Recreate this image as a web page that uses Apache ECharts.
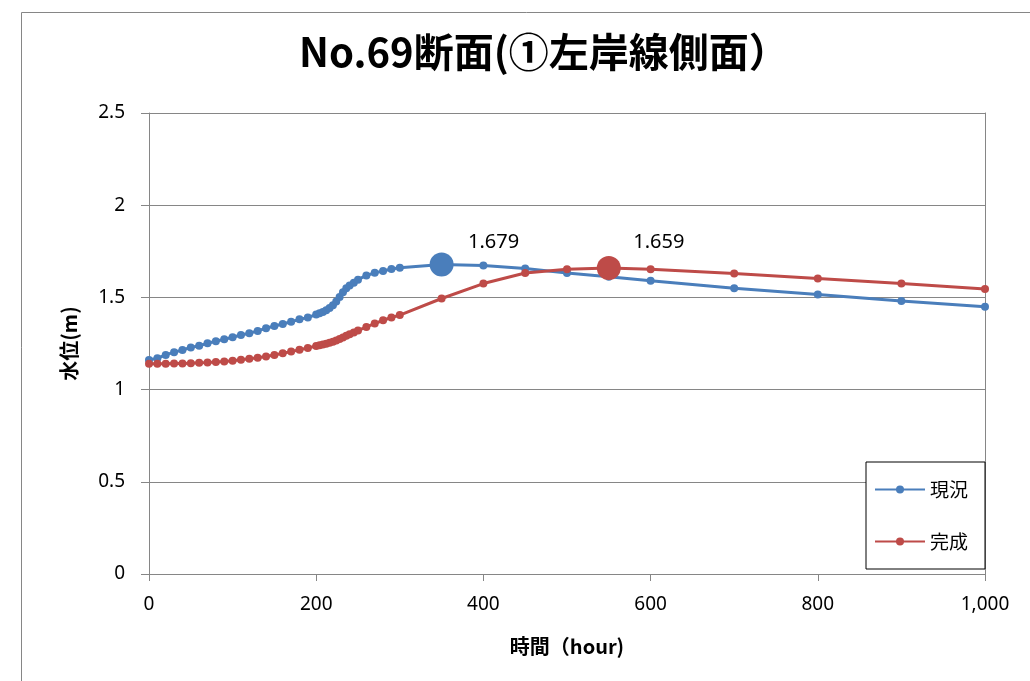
<!DOCTYPE html>
<html>
<head>
<meta charset="utf-8">
<script src="https://cdn.jsdelivr.net/npm/echarts@6/dist/echarts.min.js"></script>
<style>
  html, body { margin: 0; padding: 0; background: #fff; }
  #chart { width: 1030px; height: 681px; }
</style>
</head>
<body>
<div id="chart"></div>
<script>
// 水位の時間変化（現況・完成）
const titleText = 'No.69断面(①左岸線側面）';
const xName = '時間（hour)';
const yName = '水位(m)';
const seriesNames = ['現況', '完成'];

// 現況
const hoursA = [0, 10, 20, 30, 40, 50, 60, 70, 80, 90, 100, 110, 120, 130, 140, 150, 160, 170, 180, 190, 200,
  204, 208, 212, 216, 220, 224, 228, 232, 236, 240, 245, 250, 260, 270, 280, 290, 300,
  350, 400, 450, 500, 550, 600, 700, 800, 900, 1000];
const levelA = [1.161, 1.170, 1.188, 1.203, 1.215, 1.228, 1.238, 1.251, 1.262, 1.273, 1.284, 1.296, 1.306, 1.318, 1.333, 1.345, 1.356, 1.368, 1.381, 1.391, 1.407,
  1.414, 1.421, 1.430, 1.442, 1.458, 1.478, 1.502, 1.528, 1.550, 1.565, 1.580, 1.596, 1.619, 1.633, 1.643, 1.654, 1.661,
  1.679, 1.673, 1.657, 1.632, 1.612, 1.590, 1.549, 1.516, 1.480, 1.449];

// 完成
const hoursB = [0, 10, 20, 30, 40, 50, 60, 70, 80, 90, 100, 110, 120, 130, 140, 150, 160, 170, 180, 190, 200,
  204, 208, 212, 216, 220, 224, 228, 232, 236, 240, 245, 250, 260, 270, 280, 290, 300,
  350, 400, 450, 500, 550, 600, 700, 800, 900, 1000];
const levelB = [1.140, 1.140, 1.140, 1.141, 1.141, 1.143, 1.145, 1.147, 1.150, 1.153, 1.157, 1.162, 1.167, 1.173, 1.180, 1.188, 1.197, 1.206, 1.216, 1.226, 1.236,
  1.240, 1.244, 1.249, 1.254, 1.260, 1.266, 1.274, 1.283, 1.292, 1.300, 1.310, 1.320, 1.340, 1.358, 1.376, 1.391, 1.404,
  1.494, 1.575, 1.632, 1.653, 1.659, 1.653, 1.630, 1.603, 1.576, 1.545];

// 最高水位の時刻
const peakHourA = 350;
const peakHourB = 550;

const xTicks = [0, 200, 400, 600, 800, 1000];
const yTicks = [0, 0.5, 1, 1.5, 2, 2.5];

const COLORS = ['#4A7EBB', '#BE4B48'];
const GRID_COLOR = '#868686';
const LATIN = '"Noto Sans", "Noto Sans CJK JP", sans-serif';
const CJK = '"Noto Sans CJK JP", sans-serif';

function buildData(hours, levels, peakHour, labelOffset) {
  return hours.map((h, i) => {
    if (h !== peakHour) return [h, levels[i]];
    return {
      value: [h, levels[i]],
      symbolSize: 24,
      label: {
        show: true,
        position: 'top',
        offset: labelOffset,
        formatter: p => p.value[1].toFixed(3),
        fontFamily: LATIN,
        fontSize: 20,
        color: '#000'
      }
    };
  });
}

function lineSeries(name, color, data) {
  return {
    name: name,
    type: 'line',
    data: data,
    symbol: 'circle',
    symbolSize: 8,
    showAllSymbol: true,
    lineStyle: { color: color, width: 3 },
    itemStyle: { color: color },
    emphasis: { disabled: true }
  };
}

const chart = echarts.init(document.getElementById('chart'));
chart.setOption({
  animation: false,
  backgroundColor: '#fff',
  graphic: [{
    type: 'rect',
    left: 19, top: 10,
    shape: { width: 1100, height: 800 },
    style: { fill: 'none', stroke: GRID_COLOR, lineWidth: 1 },
    silent: true
  }],
  title: {
    text: titleText,
    left: 294,
    top: 27,
    textStyle: { fontFamily: CJK, fontWeight: 'bold', fontSize: 40, color: '#000' }
  },
  grid: { left: 149, right: 45, top: 113, bottom: 107 },
  legend: {
    orient: 'vertical',
    left: 866,
    top: 462,
    padding: [18, 17, 18, 8],
    itemGap: 33,
    itemWidth: 50,
    itemHeight: 10,
    backgroundColor: '#fff',
    borderColor: '#000',
    borderWidth: 1,
    textStyle: { fontFamily: CJK, fontSize: 19, color: '#000' },
    data: seriesNames
  },
  xAxis: {
    type: 'value',
    min: xTicks[0],
    max: xTicks[xTicks.length - 1],
    interval: xTicks[1] - xTicks[0],
    name: xName,
    nameLocation: 'middle',
    nameGap: 62,
    nameTextStyle: { fontFamily: CJK, fontWeight: 'bold', fontSize: 20, color: '#000' },
    axisLine: { show: true, lineStyle: { color: GRID_COLOR, width: 1 } },
    axisTick: { show: true, length: 7, lineStyle: { color: GRID_COLOR } },
    axisLabel: {
      margin: 21,
      fontFamily: LATIN, fontSize: 19, color: '#000',
      formatter: v => v.toLocaleString('en-US')
    },
    splitLine: { show: false }
  },
  yAxis: [{
    type: 'value',
    min: yTicks[0],
    max: yTicks[yTicks.length - 1],
    interval: yTicks[1] - yTicks[0],
    name: yName,
    nameLocation: 'middle',
    nameGap: 70,
    nameRotate: 90,
    nameTextStyle: { fontFamily: CJK, fontWeight: 'bold', fontSize: 20, color: '#000' },
    axisLine: { show: true, lineStyle: { color: GRID_COLOR, width: 1 } },
    axisTick: { show: true, length: 8, lineStyle: { color: GRID_COLOR } },
    axisLabel: { margin: 24, fontFamily: LATIN, fontSize: 19, color: '#000' },
    splitLine: { show: true, lineStyle: { color: GRID_COLOR, width: 1 } }
  }, {
    type: 'value',
    position: 'right',
    min: yTicks[0],
    max: yTicks[yTicks.length - 1],
    interval: yTicks[1] - yTicks[0],
    axisLine: { show: true, lineStyle: { color: GRID_COLOR, width: 1 } },
    axisTick: { show: false },
    axisLabel: { show: false },
    splitLine: { show: false }
  }],
  series: [
    lineSeries(seriesNames[0], COLORS[0], buildData(hoursA, levelA, peakHourA, [52, 5])),
    lineSeries(seriesNames[1], COLORS[1], buildData(hoursB, levelB, peakHourB, [50, 1]))
  ]
});
</script>
</body>
</html>
